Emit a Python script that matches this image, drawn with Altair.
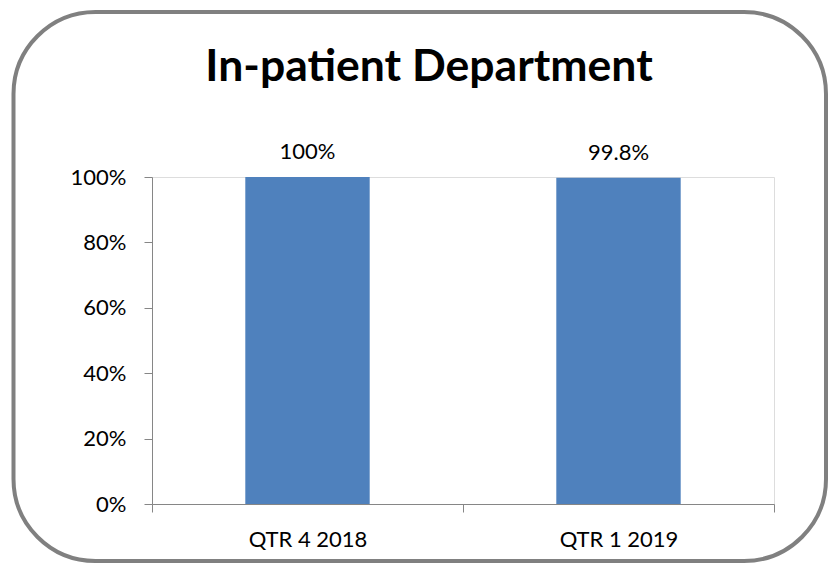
import altair as alt
import pandas as pd

categories = ["QTR 4 2018", "QTR 1 2019"]
values = [1.0, 0.998]

df = pd.DataFrame({"quarter": categories, "value": values})
frame_df = pd.DataFrame({"k": [0]})

FONT = "Lato"
GREY = "#868686"

x_enc = alt.X(
    "quarter:N",
    sort=categories,
    title=None,
    scale=alt.Scale(paddingInner=0, paddingOuter=0),
    axis=alt.Axis(
        labelAngle=0,
        labelFont=FONT,
        labelFontSize=22,
        labelColor="black",
        labelPadding=17,
        domainColor=GREY,
        tickColor=GREY,
        tickSize=8,
        tickBand="extent",
        grid=False,
    ),
)
y_enc = alt.Y(
    "value:Q",
    title=None,
    scale=alt.Scale(domain=[0, 1], nice=False),
    axis=alt.Axis(
        values=[0, 0.2, 0.4, 0.6, 0.8, 1.0],
        format="%",
        labelFont=FONT,
        labelFontSize=22,
        labelColor="black",
        labelPadding=18,
        domainColor=GREY,
        tickColor=GREY,
        tickSize=8,
        grid=False,
    ),
)

bars = alt.Chart(df).mark_bar(color="#4F81BD", width={"band": 0.4}).encode(x=x_enc, y=y_enc)
labels = alt.Chart(df).mark_text(
    font=FONT, fontSize=22, color="black", baseline="alphabetic", dy=-18
).encode(
    x=alt.X("quarter:N", sort=categories),
    y="value:Q",
    text=alt.Text("value:Q", format=".1~%"),
)

frame = alt.Chart(frame_df).mark_rect(
    fill="transparent", stroke="#808080", strokeWidth=4, cornerRadius=82
).encode(
    x=alt.value(-138.5), x2=alt.value(674), y=alt.value(-165), y2=alt.value(384)
)

chart = alt.layer(bars, labels, frame).properties(
    width=622,
    height=327,
    title=alt.TitleParams(
        "In-patient Department",
        font=FONT,
        fontSize=44.5,
        fontWeight="bold",
        color="black",
        anchor="middle",
        dx=-34,
        offset=-80,
    ),
    autosize=alt.AutoSizeParams(type="none"),
    padding={"left": 144, "top": 169, "right": 54, "bottom": 59},
).configure_view(stroke=None).configure(background="white")

chart.save("out.html", embed_options={"renderer": "svg", "actions": False})
